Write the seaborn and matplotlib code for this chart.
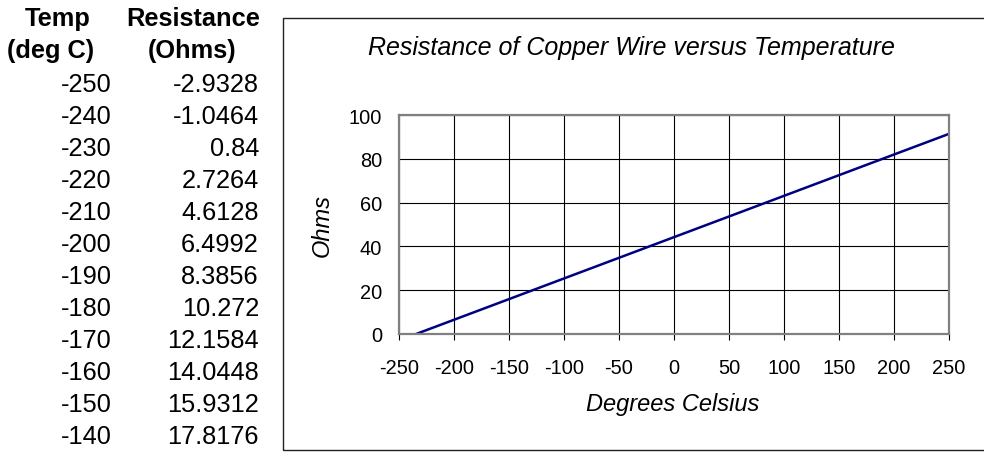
import matplotlib
matplotlib.use("Agg")
import matplotlib.pyplot as plt
import seaborn as sns
import pandas as pd
from matplotlib.patches import Rectangle

sns.set_theme(style="white")
plt.rcParams["font.family"] = ["Liberation Sans", "DejaVu Sans"]
plt.rcParams["axes.unicode_minus"] = False
plt.rcParams["text.color"] = "black"
plt.rcParams["xtick.color"] = "black"
plt.rcParams["ytick.color"] = "black"

# Copper wire resistance table, -250 .. 250 deg C in 10 degree steps
temps_c = [-250, -240, -230, -220, -210, -200, -190, -180, -170, -160,
           -150, -140, -130, -120, -110, -100, -90, -80, -70, -60,
           -50, -40, -30, -20, -10, 0, 10, 20, 30, 40,
           50, 60, 70, 80, 90, 100, 110, 120, 130, 140,
           150, 160, 170, 180, 190, 200, 210, 220, 230, 240, 250]
resistance_ohms = [-2.9328, -1.0464, 0.84, 2.7264, 4.6128, 6.4992, 8.3856, 10.272, 12.1584, 14.0448,
                   15.9312, 17.8176, 19.704, 21.5904, 23.4768, 25.3632, 27.2496, 29.136, 31.0224, 32.9088,
                   34.7952, 36.6816, 38.568, 40.4544, 42.3408, 44.2272, 46.1136, 48.0, 49.8864, 51.7728,
                   53.6592, 55.5456, 57.432, 59.3184, 61.2048, 63.0912, 64.9776, 66.864, 68.7504, 70.6368,
                   72.5232, 74.4096, 76.296, 78.1824, 80.0688, 81.9552, 83.8416, 85.728, 87.6144, 89.5008,
                   91.3872]
# Rows shown in the printed table
resistance_labels = ["-2.9328", "-1.0464", "0.84", "2.7264", "4.6128", "6.4992", "8.3856",
                     "10.272", "12.1584", "14.0448", "15.9312", "17.8176"]

x_ticks = [-250, -200, -150, -100, -50, 0, 50, 100, 150, 200, 250]
y_ticks = [0, 20, 40, 60, 80, 100]

W, H = 984, 464
fig = plt.figure(figsize=(W / 100, H / 100), dpi=100)
fig.patch.set_facecolor("white")

def fx(px):
    return px / W

def fy(py):
    return 1 - py / H

# Data table on the left
TS = 18.3
fig.text(fx(58), fy(19), "Temp", ha="center", va="center", fontsize=TS, fontweight="bold")
fig.text(fx(51), fy(51), "(deg C)", ha="center", va="center", fontsize=TS, fontweight="bold")
fig.text(fx(193), fy(19), "Resistance", ha="center", va="center", fontsize=TS, fontweight="bold")
fig.text(fx(192), fy(51), "(Ohms)", ha="center", va="center", fontsize=TS, fontweight="bold")
for i, lab in enumerate(resistance_labels):
    y = 85 + 32 * i
    fig.text(fx(112), fy(y), str(temps_c[i]), ha="right", va="center", fontsize=TS)
    fig.text(fx(259), fy(y), lab, ha="right", va="center", fontsize=TS)

# Chart frame
fig.patches.append(Rectangle((fx(283), fy(451)), fx(1000) - fx(283), fy(19) - fy(451),
                             transform=fig.transFigure, fill=False,
                             edgecolor="#222222", linewidth=1.0))

fig.text(fx(631), fy(48), "Resistance of Copper Wire versus Temperature",
         ha="center", va="center", fontsize=18, style="italic")

ax = fig.add_axes([fx(399), fy(335), fx(949) - fx(399), fy(116) - fy(335)])
df = pd.DataFrame({"Temp": temps_c, "Ohms": resistance_ohms})
sns.lineplot(data=df, x="Temp", y="Ohms", ax=ax, color="#000080", linewidth=1.8)

ax.set_xlim(-250, 250)
ax.set_ylim(0, 100)
ax.set_xticks(x_ticks)
ax.set_yticks(y_ticks)
ax.grid(True, color="black", linewidth=0.8)
ax.set_axisbelow(True)
for s in ax.spines.values():
    s.set_visible(True)
    s.set_color("#808080")
    s.set_linewidth(1.6)
ax.tick_params(axis="x", which="both", bottom=True, length=4, width=0.8, color="black",
               direction="out", pad=13, labelsize=14.4)
ax.tick_params(axis="y", left=False, length=0, pad=12, labelsize=14.4)
ax.set_xlabel("")
ax.set_ylabel("")
fig.text(fx(673), fy(405), "Degrees Celsius", ha="center", va="center", fontsize=17, style="italic")
fig.text(fx(322), fy(226), "Ohms", ha="center", va="center", fontsize=17, style="italic", rotation=90)

fig.savefig("out.png", dpi=100)
